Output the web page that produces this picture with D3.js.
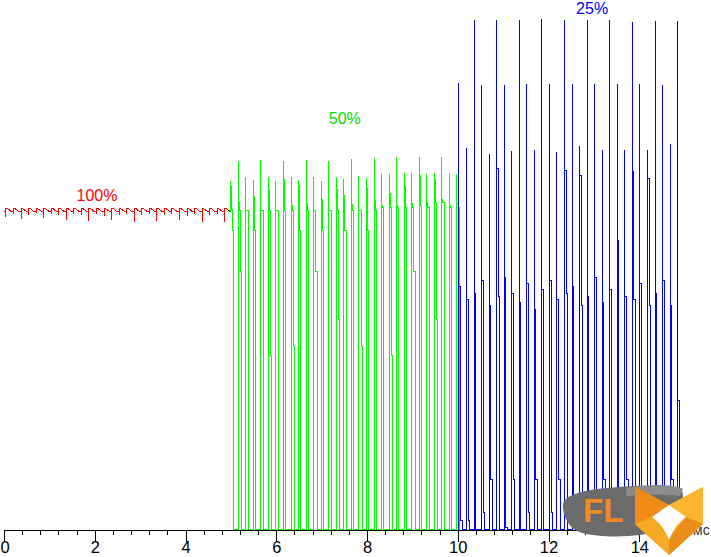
<!DOCTYPE html>
<html><head><meta charset="utf-8">
<script src="https://cdn.jsdelivr.net/npm/d3@7/dist/d3.min.js"></script>
<style>html,body{margin:0;padding:0;background:#fff;}svg{display:block;}</style>
</head><body>
<svg id="chart" width="711" height="557"></svg>
<script>
// ---------------- data ----------------
const xTickValues = [0, 2, 4, 6, 8, 10, 12, 14];
const xTickLabels = ["0", "2", "4", "6", "8", "10", "12", "14"];
const xMinorTicks = [0.4,0.8,1.2,1.6, 2.4,2.8,3.2,3.6, 4.4,4.8,5.2,5.6, 6.4,6.8,7.2,7.6,
                     8.4,8.8,9.2,9.6, 10.4,10.8,11.2,11.6, 12.4,12.8,13.2,13.6, 14.4,14.8];
const xAxisEnd = 15.12;
const xUnit = "мс";
const segmentLabels = ["100%", "50%", "25%"];

// 100% segment (red): level with a dip each period
const redStart = 0, redEnd = 4.98, redLevel = 99.6;
const redDipT = [0.044,0.210,0.376,0.543,0.709,0.875,1.041,1.207,1.374,1.540,
                 1.706,1.872,2.038,2.205,2.371,2.537,2.703,2.869,3.036,3.202,
                 3.368,3.534,3.700,3.867,4.033,4.199,4.365,4.531,4.697,4.864];
const redDipV = [97.8,98.7,97.2,98.4,99.1,97.5,98.7,98.4,96.9,98.7,
                 98.4,96.6,98.7,98.1,96.9,98.4,98.7,96.2,98.4,98.7,
                 96.6,98.4,98.7,96.9,98.1,98.7,96.2,98.4,98.7,96.2];
const redShapeV = [100.6, 100.1, 99.6];
const redShapeDt = [0.022, 0.066, 0.11];

// 50% segment (green): pulses, each a short list of samples
const greenT = [4.987,5.163,5.329,5.495,5.661,5.828,5.994,6.160,6.326,6.492,6.658,
                6.825,6.991,7.157,7.323,7.489,7.655,7.821,7.988,8.154,8.320,
                8.486,8.652,8.818,8.984,9.151,9.317,9.483,9.649,9.815,9.981];
const greenS = [
  [109.1,107.5,100.3,93.7],
  [115.4,102.2,99.7,80.6],
  [110.3,99.7,99.7],
  [109.4,104.1,93.7],
  [115.7,99.7,99.7],
  [110.3,106.0,99.7,54.5],
  [109.1,99.7,99.7],
  [115.4,109.4,99.7],
  [110.3,101.3,99.7,57.4],
  [109.4,107.8,93.7],
  [115.7,101.9,99.7],
  [110.3,99.7,99.7,80.6],
  [109.1,103.4,93.7],
  [115.4,99.7,99.7],
  [110.3,106.3,99.7,65.8],
  [109.7,104.4,93.7],
  [116.0,101.6,99.7],
  [110.7,99.7,99.7,57.4],
  [110.0,106.6,93.7],
  [116.3,103.1,99.7],
  [111.4,101.3,100.9],
  [111.4,105.3,100.9,54.5],
  [116.6,101.3,100.9],
  [111.6,107.5,100.9],
  [111.6,101.9,100.9,80.6],
  [116.6,110.7,101.3],
  [111.4,102.5,100.9],
  [111.6,109.4,102.2,65.8],
  [116.6,103.4,102.2],
  [111.6,101.3,100.9],
  [111.4,101.9,100.9]
];
const greenDt = 0.025;

// 25% segment (blue)
const blueT = [10.026,10.192,10.358,10.524,10.691,10.857,11.023,11.189,11.355,11.521,
               11.688,11.854,12.020,12.186,12.352,12.518,12.684,12.851,13.017,13.183,
               13.349,13.515,13.681,13.847,14.014,14.180,14.346,14.512,14.678,14.844];
const blueS = [
  [139.8,76,2.8],[119.4,72,2.8],[159.6,74],[139.2,78,5.3],[117.6,70,15.7],[159.6,112.9,73],
  [139.2,79,0.6],[118.5,74,15.7],[159.6,71],[139.5,77,5.3],[118.8,69,15.7],[159.9,75],
  [139.5,78,5.3],[118.2,72,15.7],[159.6,112.5,74],[139.5,76,5.3],[120.1,110.7,70],[159.6,73],
  [139.5,79,5.3],[118.8,71,15.7],[159.6,75],[139.5,90.6,5.3],[118.8,73,15.7],[158.9,112.2,72],
  [139.5,77,5.3],[118.8,110.0,70],[159.2,74],[139.2,78,5.3],[120.7,70,15.7],[159.2,40.4]
];
const blueDt = 0.035;

// ---------------- chart ----------------
const svg = d3.select("#chart");
const x = d3.scaleLinear().domain([0, 14]).range([4, 639.3]);
const y = d3.scaleLinear().domain([0, 100]).range([529.5, 210]);
const line = d3.line().x(d => x(d[0])).y(d => y(d[1]));

function pulsePoints(times, samples, dt, firstStart) {
  const pts = [];
  times.forEach((t, i) => {
    const s = samples[i];
    const startV = (i === 0 && firstStart != null) ? firstStart : 0;
    pts.push([t, startV], [t, s[0]]);
    for (let k = 1; k < s.length; k++) {
      pts.push([t + (k - 1) * dt, s[k]], [t + k * dt, s[k]]);
    }
    pts.push([t + (s.length - 1) * dt, 0]);
  });
  return pts;
}

// red trace
const redPts = [[redStart, redLevel]];
let cur = redLevel;
redDipT.forEach((t, k) => {
  redPts.push([t, cur], [t, redDipV[k]], [t, redShapeV[0]]);
  redShapeDt.forEach((d, j) => redPts.push([t + d, redShapeV[j]]));
  cur = redShapeV[redShapeV.length - 1];
});
redPts.push([redEnd, cur]);

const greenPts = [[redEnd, cur]].concat(pulsePoints(greenT, greenS, greenDt, cur));
const bluePts = pulsePoints(blueT, blueS, blueDt, null);

const g = svg.append("g").attr("shape-rendering", "crispEdges").attr("fill", "none").attr("stroke-width", 1);
g.append("path").attr("d", line(redPts)).attr("stroke", "#ff0000");
g.append("path").attr("d", line(greenPts)).attr("stroke", "#00ff00");
g.append("path").attr("d", line(bluePts)).attr("stroke", "#0000ff");

// axis
const xa = x.copy().domain([0, xAxisEnd]).range([x(0), x(xAxisEnd)]);
const axMinor = svg.append("g").attr("transform", "translate(0,529.5)")
  .call(d3.axisBottom(xa).tickValues(xMinorTicks).tickSize(5).tickSizeOuter(0).tickFormat(""));
axMinor.select(".domain").remove();
const axMajor = svg.append("g").attr("transform", "translate(0,529.5)")
  .call(d3.axisBottom(xa).tickValues(xTickValues).tickSize(12).tickSizeOuter(0).tickPadding(0)
        .tickFormat((d, i) => xTickLabels[i]));
svg.selectAll(".tick line, .domain").attr("stroke", "#000").attr("shape-rendering", "crispEdges");
axMajor.selectAll("text").attr("font-family", "'Liberation Sans', Arial, sans-serif")
  .attr("font-size", 16.5).attr("fill", "#000");
// keep the first label inside the left edge
axMajor.selectAll(".tick").filter(d => d === 0).select("text")
  .attr("text-anchor", "start").attr("x", -x(0));

svg.append("text").attr("x", x(xAxisEnd) + 3).attr("y", 535)
  .attr("font-family", "'Liberation Sans', Arial, sans-serif").attr("font-size", 14)
  .attr("fill", "#333").text(xUnit);

// segment labels
const labelStyle = sel => sel.attr("font-family", "'Liberation Sans', Arial, sans-serif")
  .attr("font-size", 16).attr("text-anchor", "middle");
svg.append("text").call(labelStyle).attr("x", x(2.05)).attr("y", y(102.8)).attr("fill", "#ff0000").text(segmentLabels[0]);
svg.append("text").call(labelStyle).attr("x", x(7.51)).attr("y", y(127)).attr("fill", "#00dd00").text(segmentLabels[1]);
svg.append("text").call(labelStyle).attr("x", x(12.96)).attr("y", y(161.4)).attr("fill", "#0000ff").text(segmentLabels[2]);

// watermark logo
const logo = svg.append("g");
logo.append("path")
  .attr("d", "M563,506 C562,494 588,489 618,487 C648,485 676,485 682,491 C686,499 677,521 661,530 C640,538 602,538 582,533 C569,529 563,517 563,506 Z")
  .attr("fill", "#6b6b6b");
logo.append("path").attr("d", "M626,488 C650,484 674,484 683,489 L680,496 C665,494 645,495 626,496 Z")
  .attr("fill", "#8c8c8c");
logo.append("text").attr("x", 583).attr("y", 522).attr("font-family", "'Liberation Sans', Arial, sans-serif")
  .attr("font-weight", "bold").attr("font-size", 33).attr("fill", "#f28a22").text("FL");
logo.append("path").attr("d", "M635,487 L669,505 L703,487 L703,524 L669,555 L635,524 Z").attr("fill", "#f6a21d");
logo.append("path").attr("d", "M635,487 L669,505 L652,517 L635,524 Z").attr("fill", "#f08b17");
logo.append("path").attr("d", "M703,487 L669,505 L686,517 L703,524 Z").attr("fill", "#fbb52e");
logo.append("path").attr("d", "M635,524 L652,517 L669,540 L669,555 Z").attr("fill", "#f7aa26");
logo.append("path").attr("d", "M703,524 L686,517 L669,540 L669,555 Z").attr("fill", "#e98f19");
logo.append("path").attr("d", "M669,505 L686,517 Q674,526 669,540 Q664,526 652,517 Z").attr("fill", "#ffffff");
</script>
</body></html>
